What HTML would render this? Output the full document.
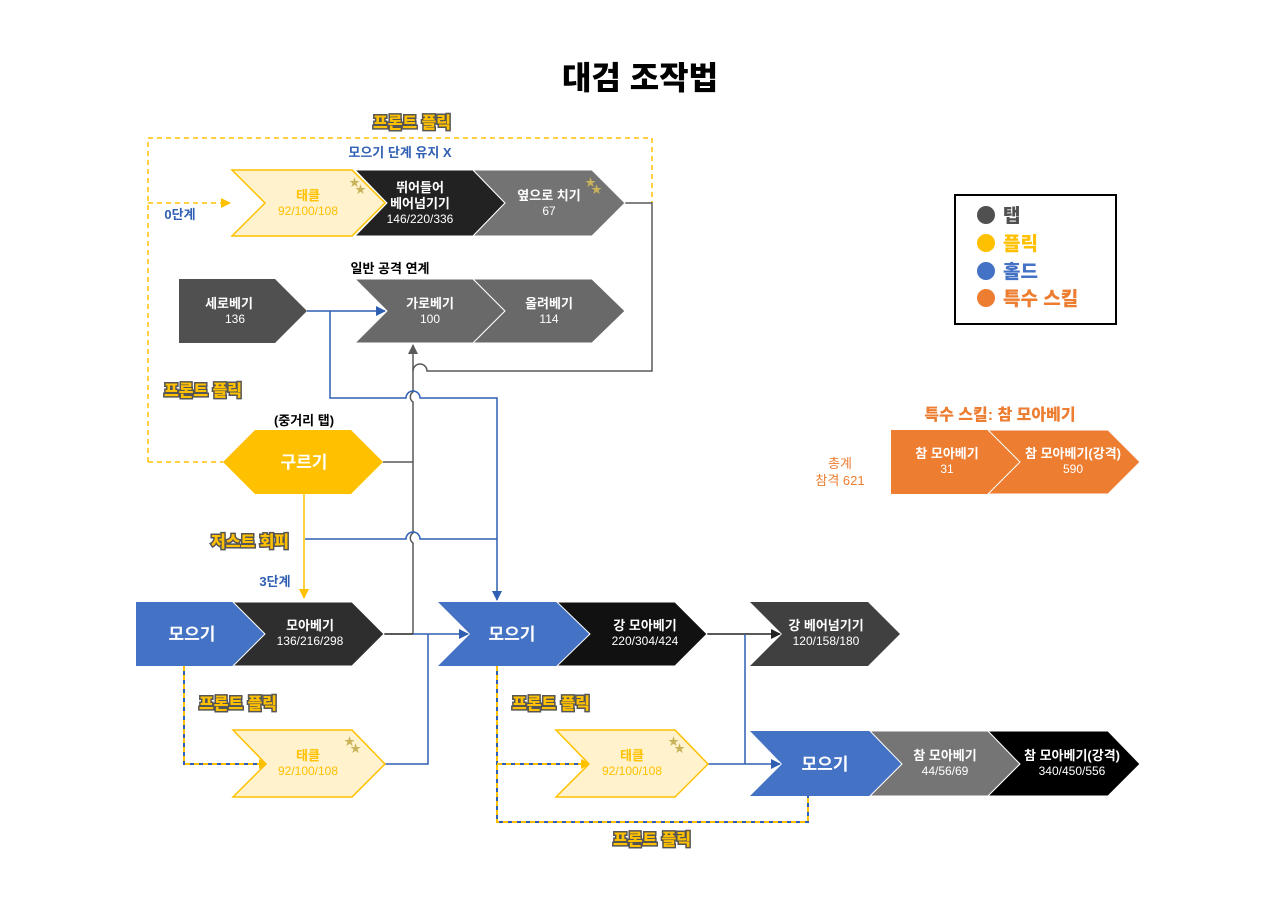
<!DOCTYPE html>
<html><head><meta charset="utf-8"><style>
html,body{margin:0;padding:0;background:#fff;}
svg{display:block;font-family:"Liberation Sans","Noto Sans CJK KR",sans-serif;}
.w{fill:#fff;font-size:13px;font-weight:bold;}
.wn{fill:#fff;font-size:12px;}
.ff{fill:#FFC000;stroke:#555;stroke-width:3;paint-order:stroke;font-weight:900;font-size:16px;}
.ty{fill:#FFC000;font-size:13px;font-weight:bold;}
.tyn{fill:#FFC000;font-size:12px;}
</style></head><body>
<svg width="1280" height="905" viewBox="0 0 1280 905">
<defs>
<marker id="ag" markerWidth="10" markerHeight="10" refX="9" refY="5" orient="auto" markerUnits="userSpaceOnUse"><path d="M0,0 L10,5 L0,10z" fill="#595959"/></marker>
<marker id="ab" markerWidth="10" markerHeight="10" refX="9" refY="5" orient="auto" markerUnits="userSpaceOnUse"><path d="M0,0 L10,5 L0,10z" fill="#2F5FB3"/></marker>
<marker id="ay" markerWidth="10" markerHeight="10" refX="9" refY="5" orient="auto" markerUnits="userSpaceOnUse"><path d="M0,0 L10,5 L0,10z" fill="#FFC000"/></marker>
<marker id="ak" markerWidth="10" markerHeight="10" refX="9" refY="5" orient="auto" markerUnits="userSpaceOnUse"><path d="M0,0 L10,5 L0,10z" fill="#222"/></marker>
</defs>
<text x="640" y="89" text-anchor="middle" font-size="32" font-weight="900" fill="#000">대검 조작법</text>

<!-- dashed front flick frame -->
<path d="M148,462 V138 H652 V203" fill="none" stroke="#FFC000" stroke-width="1.5" stroke-dasharray="5,4"/>
<path d="M148,462 H223" fill="none" stroke="#FFC000" stroke-width="1.5" stroke-dasharray="5,4"/>
<path d="M148,203 H230" fill="none" stroke="#FFC000" stroke-width="1.5" stroke-dasharray="5,4" marker-end="url(#ay)"/>
<text x="412" y="128" text-anchor="middle" class="ff">프론트 플릭</text>
<text x="400" y="157" text-anchor="middle" font-size="13" font-weight="bold" fill="#2F5FB3">모으기 단계 유지 X</text>
<text x="180" y="219" text-anchor="middle" font-size="13" font-weight="bold" fill="#2F5FB3">0단계</text>
<text x="203" y="396" text-anchor="middle" class="ff">프론트 플릭</text>

<!-- gray connectors -->
<path d="M625,203 H652 V371 H427 A6,6 0 0 0 413,371" fill="none" stroke="#595959" stroke-width="1.5"/>
<path d="M413,634 V543 A6,6 0 0 1 413,533 V402 A6,6 0 0 1 413,392 V345" fill="none" stroke="#595959" stroke-width="1.5" marker-end="url(#ag)"/>
<path d="M383,462 H413" fill="none" stroke="#595959" stroke-width="1.5"/>
<path d="M384,634 H413" fill="none" stroke="#222" stroke-width="1.5"/>

<!-- blue connectors -->
<path d="M307,311 H385" fill="none" stroke="#2F5FB3" stroke-width="1.5" marker-end="url(#ab)"/>
<path d="M330,311 V398 H406 A7,7 0 0 1 420,398 H497 V600" fill="none" stroke="#2F5FB3" stroke-width="1.5" marker-end="url(#ab)"/>
<path d="M305,539 H406 A7,7 0 0 1 420,539 H497" fill="none" stroke="#2F5FB3" stroke-width="1.5"/>
<path d="M413,634 H468" fill="none" stroke="#2F5FB3" stroke-width="1.5" marker-end="url(#ab)"/>
<path d="M385,764 H428 V634" fill="none" stroke="#2F5FB3" stroke-width="1.5"/>
<path d="M707,634 H780" fill="none" stroke="#222" stroke-width="1.5" marker-end="url(#ak)"/>
<path d="M745,634 V764" fill="none" stroke="#2F5FB3" stroke-width="1.5"/>
<path d="M708,764 H780" fill="none" stroke="#2F5FB3" stroke-width="1.5" marker-end="url(#ab)"/>

<!-- yellow from 구르기 -->
<path d="M304,494 V598" fill="none" stroke="#FFC000" stroke-width="1.5" marker-end="url(#ay)"/>
<text x="250" y="547" text-anchor="middle" class="ff">저스트 회피</text>
<text x="275" y="586" text-anchor="middle" font-size="13" font-weight="bold" fill="#2F5FB3">3단계</text>

<!-- dashed yellow/blue lines bottom -->
<g fill="none" stroke-width="2">
<path d="M184,666 V764 H268" stroke="#2F5FB3"/>
<path d="M184,666 V764 H268" stroke="#FFC000" stroke-dasharray="5,4" marker-end="url(#ay)"/>
<path d="M497,666 V822 H808 V796" stroke="#2F5FB3"/>
<path d="M497,666 V822 H808 V796" stroke="#FFC000" stroke-dasharray="5,4"/>
<path d="M497,764 H590" stroke="#2F5FB3"/>
<path d="M497,764 H590" stroke="#FFC000" stroke-dasharray="5,4" marker-end="url(#ay)"/>
</g>
<text x="238" y="709" text-anchor="middle" class="ff">프론트 플릭</text>
<text x="551" y="709" text-anchor="middle" class="ff">프론트 플릭</text>
<text x="652" y="845" text-anchor="middle" class="ff">프론트 플릭</text>

<!-- top row -->
<polygon points="232,170 352,170 385,203 352,236 232,236 265,203" fill="#FFF2CC" stroke="#FFC000" stroke-width="1.5"/>
<text x="308" y="200" text-anchor="middle" class="ty">태클</text>
<text x="308" y="215" text-anchor="middle" class="tyn">92/100/108</text>
<text x="349" y="186" font-size="11" fill="#C9B35A">★</text><text x="355" y="193" font-size="11" fill="#C9B35A">★</text>
<polygon points="355,170 473,170 505,203 473,236 355,236 387,203" fill="#222" stroke="#fff" stroke-width="1"/>
<text x="420" y="192" text-anchor="middle" class="w">뛰어들어</text>
<text x="420" y="208" text-anchor="middle" class="w">베어넘기기</text>
<text x="420" y="223" text-anchor="middle" class="wn">146/220/336</text>
<polygon points="473,170 592,170 625,203 592,236 473,236 505,203" fill="#737373" stroke="#fff" stroke-width="1"/>
<text x="549" y="200" text-anchor="middle" class="w">옆으로 치기</text>
<text x="549" y="215" text-anchor="middle" class="wn">67</text>
<text x="585" y="186" font-size="11" fill="#C9B35A">★</text><text x="591" y="193" font-size="11" fill="#C9B35A">★</text>

<!-- row 2 -->
<text x="390" y="273" text-anchor="middle" font-size="13" font-weight="bold" fill="#000">일반 공격 연계</text>
<polygon points="179,279 275,279 307,311 275,343 179,343" fill="#505050"/>
<text x="229" y="308" text-anchor="middle" class="w">세로베기</text>
<text x="235" y="323" text-anchor="middle" class="wn">136</text>
<polygon points="355,279 473,279 505,311 473,343 355,343 387,311" fill="#696969" stroke="#fff" stroke-width="1"/>
<text x="430" y="308" text-anchor="middle" class="w">가로베기</text>
<text x="430" y="323" text-anchor="middle" class="wn">100</text>
<polygon points="473,279 592,279 625,311 592,343 473,343 505,311" fill="#696969" stroke="#fff" stroke-width="1"/>
<text x="549" y="308" text-anchor="middle" class="w">올려베기</text>
<text x="549" y="323" text-anchor="middle" class="wn">114</text>

<!-- 구르기 -->
<text x="304" y="425" text-anchor="middle" font-size="13" font-weight="bold" fill="#000">(중거리 탭)</text>
<polygon points="223,462 255,430 351,430 383,462 351,494 255,494" fill="#FFC000"/>
<text x="304" y="468" text-anchor="middle" fill="#fff" font-size="17" font-weight="bold">구르기</text>

<!-- 모으기 row -->
<polygon points="136,602 233,602 265,634 233,666 136,666" fill="#4472C4"/>
<text x="192" y="640" text-anchor="middle" fill="#fff" font-size="17" font-weight="bold">모으기</text>
<polygon points="233,602 352,602 384,634 352,666 233,666 265,634" fill="#2E2E2E" stroke="#fff" stroke-width="1"/>
<text x="310" y="630" text-anchor="middle" class="w">모아베기</text>
<text x="310" y="645" text-anchor="middle" class="wn">136/216/298</text>

<polygon points="438,602 557,602 590,634 557,666 438,666 470,634" fill="#4472C4"/>
<text x="512" y="640" text-anchor="middle" fill="#fff" font-size="17" font-weight="bold">모으기</text>
<polygon points="557,602 675,602 707,634 675,666 557,666 590,634" fill="#111" stroke="#fff" stroke-width="1"/>
<text x="645" y="630" text-anchor="middle" class="w">강 모아베기</text>
<text x="645" y="645" text-anchor="middle" class="wn">220/304/424</text>
<polygon points="750,602 868,602 900,634 868,666 750,666 782,634" fill="#404040"/>
<text x="826" y="630" text-anchor="middle" class="w">강 베어넘기기</text>
<text x="826" y="645" text-anchor="middle" class="wn">120/158/180</text>

<!-- bottom tackles -->
<polygon points="233,730 352,730 385,764 352,797 233,797 266,764" fill="#FFF2CC" stroke="#FFC000" stroke-width="1.5"/>
<text x="308" y="760" text-anchor="middle" class="ty">태클</text>
<text x="308" y="775" text-anchor="middle" class="tyn">92/100/108</text>
<text x="344" y="745" font-size="11" fill="#C9B35A">★</text><text x="350" y="752" font-size="11" fill="#C9B35A">★</text>
<polygon points="556,730 675,730 708,764 675,797 556,797 589,764" fill="#FFF2CC" stroke="#FFC000" stroke-width="1.5"/>
<text x="632" y="760" text-anchor="middle" class="ty">태클</text>
<text x="632" y="775" text-anchor="middle" class="tyn">92/100/108</text>
<text x="668" y="745" font-size="11" fill="#C9B35A">★</text><text x="674" y="752" font-size="11" fill="#C9B35A">★</text>

<polygon points="750,731 870,731 902,764 870,796 750,796 782,764" fill="#4472C4"/>
<text x="825" y="770" text-anchor="middle" fill="#fff" font-size="17" font-weight="bold">모으기</text>
<polygon points="870,731 988,731 1020,764 988,796 870,796 902,764" fill="#757575" stroke="#fff" stroke-width="1"/>
<text x="945" y="760" text-anchor="middle" class="w">참 모아베기</text>
<text x="945" y="775" text-anchor="middle" class="wn">44/56/69</text>
<polygon points="988,731 1108,731 1140,764 1108,796 988,796 1020,764" fill="#000" stroke="#fff" stroke-width="1"/>
<text x="1072" y="760" text-anchor="middle" class="w">참 모아베기(강격)</text>
<text x="1072" y="775" text-anchor="middle" class="wn">340/450/556</text>

<!-- legend -->
<rect x="955" y="195" width="161" height="129" fill="#fff" stroke="#000" stroke-width="2"/>
<circle cx="986" cy="215" r="9" fill="#505050"/><text x="1003" y="222" font-size="19" font-weight="900" fill="#505050">탭</text>
<circle cx="986" cy="243" r="9" fill="#FFC000"/><text x="1003" y="250" font-size="19" font-weight="900" fill="#FFC000">플릭</text>
<circle cx="986" cy="271" r="9" fill="#4472C4"/><text x="1003" y="278" font-size="19" font-weight="900" fill="#4472C4">홀드</text>
<circle cx="986" cy="298" r="9" fill="#ED7D31"/><text x="1003" y="305" font-size="19" font-weight="900" fill="#ED7D31">특수 스킬</text>

<!-- special -->
<text x="1000" y="420" text-anchor="middle" font-size="16" font-weight="900" fill="#ED7D31">특수 스킬: 참 모아베기</text>
<polygon points="891,430 988,430 1020,462 988,494 891,494" fill="#ED7D31"/>
<polygon points="988,430 1108,430 1140,462 1108,494 988,494 1020,462" fill="#ED7D31" stroke="#fff" stroke-width="1"/>
<text x="947" y="458" text-anchor="middle" class="w">참 모아베기</text>
<text x="947" y="473" text-anchor="middle" class="wn">31</text>
<text x="1073" y="458" text-anchor="middle" class="w">참 모아베기(강격)</text>
<text x="1073" y="473" text-anchor="middle" class="wn">590</text>
<text x="840" y="468" text-anchor="middle" font-size="13" fill="#ED7D31">총계</text>
<text x="840" y="485" text-anchor="middle" font-size="13" fill="#ED7D31">참격 621</text>
</svg>
</body></html>
